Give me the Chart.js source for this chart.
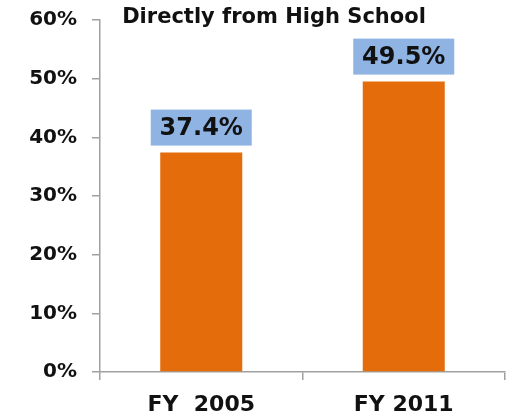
<!DOCTYPE html>
<html><head><meta charset="utf-8">
<script src="https://cdn.jsdelivr.net/npm/chart.js@4"></script>
<style>html,body{margin:0;padding:0;background:#fff}#wrap{width:517px;height:412px}</style>
</head><body><div id="wrap"><canvas id="c" width="517" height="412"></canvas></div>
<script>
const categories = ['FY  2005', 'FY 2011'];
const values = [37.4, 49.5];
const valueLabels = ['37.4%', '49.5%'];
const titleText = 'Directly from High School';
const FONT = '"DejaVu Sans", Verdana, sans-serif';

const labelPlugin = {
  id: 'boxLabels',
  afterDatasetsDraw(chart) {
    const ctx = chart.ctx;
    const meta = chart.getDatasetMeta(0);
    ctx.save();
    meta.data.forEach((bar, i) => {
      const w = 101, h = 36;
      const x = bar.x - w / 2, yb = bar.y - 7;
      ctx.fillStyle = '#8FB4E3';
      ctx.fillRect(x, yb - h, w, h);
      ctx.fillStyle = '#111';
      ctx.font = 'bold 24px ' + FONT;
      ctx.textAlign = 'center';
      ctx.textBaseline = 'middle';
      ctx.fillText(valueLabels[i], bar.x, yb - h / 2 + 1);
    });
    ctx.restore();
  },
  afterDraw(chart) {
    const ctx = chart.ctx;
    ctx.save();
    ctx.fillStyle = '#111';
    ctx.font = 'bold 21px ' + FONT;
    ctx.textAlign = 'center';
    ctx.textBaseline = 'alphabetic';
    ctx.fillText(titleText, 274, 23);
    ctx.restore();
  }
};

new Chart(document.getElementById('c'), {
  type: 'bar',
  data: {
    labels: categories,
    datasets: [{
      data: values,
      backgroundColor: '#E46C0A',
      borderWidth: 0,
      barPercentage: 0.405,
      categoryPercentage: 1.0
    }]
  },
  options: {
    responsive: false,
    animation: false,
    devicePixelRatio: 1,
    layout: { padding: { top: 20, right: 12, left: 0, bottom: 0 } },
    plugins: { legend: { display: false }, tooltip: { enabled: false }, title: { display: false } },
    scales: {
      y: {
        min: 0, max: 60,
        ticks: { stepSize: 10, padding: 15, color: '#111', font: { family: FONT, size: 20, weight: 'bold' },
          callback: v => v + '%' },
        grid: { drawOnChartArea: false, tickLength: 8, color: '#A0A0A0', lineWidth: 1.5 },
        border: { color: '#A0A0A0', width: 1.5 },
        afterFit(s) { s.width = 100; s.paddingTop = 0; s.paddingBottom = 0; }
      },
      x: {
        ticks: { padding: 12, color: '#111', font: { family: FONT, size: 22, weight: 'bold' } },
        grid: { drawOnChartArea: false, tickLength: 8, color: '#A0A0A0', lineWidth: 1.5, offset: true },
        border: { color: '#A0A0A0', width: 1.5 },
        afterFit(s) { s.height = 40; s.paddingLeft = 0; s.paddingRight = 0; }
      }
    }
  },
  plugins: [labelPlugin]
});
</script></body></html>
